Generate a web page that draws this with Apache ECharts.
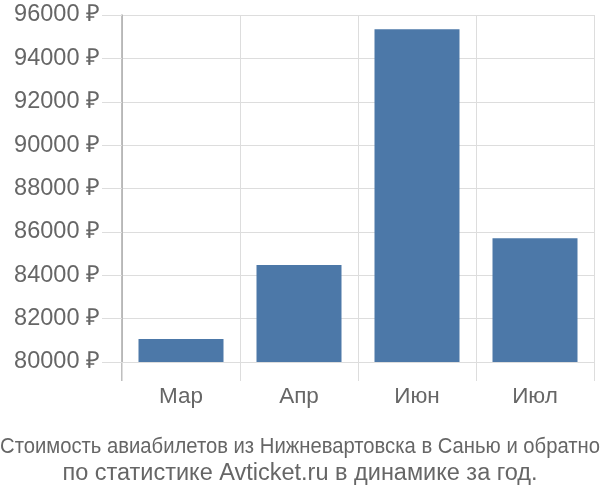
<!DOCTYPE html>
<html><head><meta charset="utf-8">
<script src="https://cdn.jsdelivr.net/npm/echarts@6/dist/echarts.min.js"></script>
<style>html,body{margin:0;padding:0;background:#fff}#c{width:600px;height:500px}</style>
</head><body><div id="c"></div>
<script>
const categories = ['Мар', 'Апр', 'Июн', 'Июл'];
const prices = [81060, 84470, 95340, 85710];
const yMin = 80000, yMax = 96000, yStep = 2000;
const titleLines = ['Стоимость авиабилетов из Нижневартовска в Санью и обратно', 'по статистике Avticket.ru в динамике за год.'];

const chart = echarts.init(document.getElementById('c'), null, {renderer: 'canvas'});
const font = 'Liberation Sans, Arial, sans-serif';
chart.setOption({
  animation: false,
  grid: {left: 122, right: 6, top: 15, bottom: 138, containLabel: false},
  xAxis: {
    type: 'category', data: categories,
    axisLine: {show: false},
    axisTick: {show: true, length: 19, lineStyle: {color: '#dddddd'}},
    splitLine: {show: true, lineStyle: {color: '#dddddd'}},
    axisLabel: {color: '#666666', fontSize: 22.5, fontFamily: font, margin: 23}
  },
  yAxis: {
    type: 'value', min: yMin, max: yMax, interval: yStep,
    axisLine: {show: true, lineStyle: {color: '#aaaaaa', width: 1.5}},
    axisTick: {show: true, length: 20, lineStyle: {color: '#dddddd'}},
    splitLine: {show: true, lineStyle: {color: '#dddddd'}},
    axisLabel: {color: '#666666', fontSize: 23.5, fontFamily: font, margin: 22, formatter: v => v + ' ₽'}
  },
  series: [{
    type: 'bar', data: prices, barWidth: 85,
    itemStyle: {color: '#4c78a8'}
  }],
  graphic: [
    {type: 'line', shape: {x1: 122, y1: 362, x2: 122, y2: 381}, style: {stroke: '#aaaaaa', lineWidth: 1.5}},
    {type: 'text', x: 300, y: 447, scaleX: 0.92, style: {text: titleLines[0], fill: '#666666', fontSize: 22, fontFamily: font, textAlign: 'center', textVerticalAlign: 'middle'}},
    {type: 'text', x: 300, y: 474, style: {text: titleLines[1], fill: '#666666', fontSize: 23.5, fontFamily: font, textAlign: 'center', textVerticalAlign: 'middle'}}
  ]
});
</script></body></html>
